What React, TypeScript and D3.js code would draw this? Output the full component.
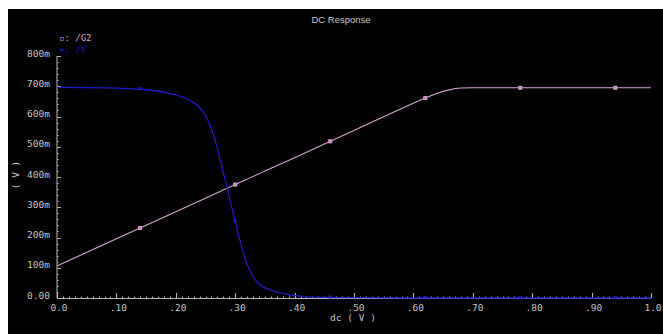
import React, { useEffect, useRef } from "react";
import * as d3 from "d3";

// sweep values (dc, V)
const g2X = [0, 0.1, 0.2, 0.3, 0.4, 0.5, 0.6, 0.62, 0.64, 0.66, 0.68, 0.7, 0.8, 0.9, 1.0];
const g2Y = [0.106, 0.196, 0.285, 0.375, 0.464, 0.554, 0.644, 0.661, 0.677, 0.688, 0.694, 0.695, 0.695, 0.695, 0.695];

const yX = [0, 0.1, 0.14, 0.19, 0.224, 0.24, 0.258, 0.269, 0.28, 0.291, 0.3, 0.32, 0.338, 0.364, 0.397, 0.45, 0.5, 0.6, 0.8, 1.0];
const yY = [0.696, 0.694, 0.69, 0.676, 0.653, 0.63, 0.57, 0.502, 0.415, 0.326, 0.252, 0.112, 0.05, 0.024, 0.009, 0.002, 0.001, 0, 0, 0];

const markerX = [0.14, 0.3, 0.46, 0.62, 0.78, 0.94];

const xTicks = [0, 0.1, 0.2, 0.3, 0.4, 0.5, 0.6, 0.7, 0.8, 0.9, 1.0];
const xTickLabels = ["0.0", ".10", ".20", ".30", ".40", ".50", ".60", ".70", ".80", ".90", "1.0"];
const yTicks = [0, 0.1, 0.2, 0.3, 0.4, 0.5, 0.6, 0.7, 0.8];
const yTickLabels = ["0.00", "100m", "200m", "300m", "400m", "500m", "600m", "700m", "800m"];

const W = 655;
const H = 325;
const PINK = "#d7a3d2";
const BLUE = "#1c1cc8";
const AXIS = "#b8b8b8";
const TEXT = "#c4c4c4";
const MONO = "'DejaVu Sans Mono', monospace";

export default function App() {
  const ref = useRef<SVGSVGElement>(null);

  useEffect(() => {
    const svg = d3.select(ref.current);
    svg.selectAll("*").remove();

    const x = d3.scaleLinear().domain([0, 1]).range([49, 643]);
    const y = d3.scaleLinear().domain([0, 0.8]).range([289, 47]);

    svg.append("rect").attr("width", W).attr("height", H).attr("fill", "#000");

    svg.append("text")
      .attr("x", 333).attr("y", 14)
      .attr("text-anchor", "middle")
      .attr("fill", TEXT)
      .attr("font-family", "'Liberation Sans', Arial, sans-serif")
      .attr("font-size", "9.5px")
      .text("DC Response");

    // legend
    svg.append("text")
      .attr("x", 51).attr("y", 32)
      .attr("fill", PINK).attr("font-family", MONO).attr("font-size", "9px")
      .text("\u25ab: /G2");
    svg.append("text")
      .attr("x", 51).attr("y", 44)
      .attr("fill", BLUE).attr("font-family", MONO).attr("font-size", "9px")
      .text("\u25be: /Y");

    const ax = svg.append("g").attr("stroke", AXIS).attr("stroke-width", 1);

    // y axis
    ax.append("line")
      .attr("x1", x(0)).attr("x2", x(0))
      .attr("y1", y(0.8)).attr("y2", y(0));
    d3.range(0, 41).forEach((i) => {
      const v = i * 0.02;
      const major = i % 5 === 0;
      ax.append("line")
        .attr("x1", x(0)).attr("x2", x(0) + (major ? 4 : 1.5))
        .attr("y1", Math.round(y(v)) + 0.5).attr("y2", Math.round(y(v)) + 0.5);
    });
    yTicks.forEach((v, i) => {
      svg.append("text")
        .attr("x", 42).attr("y", y(v) + 0.5)
        .attr("text-anchor", "end")
        .attr("fill", TEXT).attr("font-family", MONO).attr("font-size", "9.5px")
        .text(yTickLabels[i]);
    });

    // x axis
    ax.append("line")
      .attr("x1", x(0)).attr("x2", x(1))
      .attr("y1", y(0) + 0.5).attr("y2", y(0) + 0.5);
    d3.range(0, 101).forEach((i) => {
      const v = i / 100;
      const major = i % 10 === 0;
      ax.append("line")
        .attr("x1", Math.round(x(v)) + 0.5).attr("x2", Math.round(x(v)) + 0.5)
        .attr("y1", y(0)).attr("y2", y(0) - (major ? 5 : 1.5));
    });
    xTicks.forEach((v, i) => {
      svg.append("text")
        .attr("x", x(v) + 2).attr("y", 302)
        .attr("text-anchor", "middle")
        .attr("fill", TEXT).attr("font-family", MONO).attr("font-size", "9.5px")
        .text(xTickLabels[i]);
    });

    svg.append("text")
      .attr("x", 345).attr("y", 312)
      .attr("text-anchor", "middle")
      .attr("fill", TEXT).attr("font-family", MONO).attr("font-size", "9.5px")
      .text("dc ( V )");
    svg.append("text")
      .attr("transform", "translate(11,166) rotate(-90)")
      .attr("text-anchor", "middle")
      .attr("fill", TEXT).attr("font-family", MONO).attr("font-size", "9.5px")
      .text("( V )");

    const line = d3.line<[number, number]>()
      .x((d) => x(d[0]))
      .y((d) => y(d[1]))
      .curve(d3.curveMonotoneX);

    const g2 = g2X.map((v, i) => [v, g2Y[i]] as [number, number]);
    const yy = yX.map((v, i) => [v, yY[i]] as [number, number]);

    svg.append("path").attr("d", line(g2)).attr("fill", "none")
      .attr("stroke", PINK).attr("stroke-width", 1.1);
    svg.append("path").attr("d", line(yy)).attr("fill", "none")
      .attr("stroke", BLUE).attr("stroke-width", 1.3);

    const g2At = d3.scaleLinear().domain(g2X).range(g2Y);
    const yAt = d3.scaleLinear().domain(yX).range(yY);

    markerX.forEach((v) => {
      svg.append("rect")
        .attr("x", x(v) - 1.5).attr("y", y(g2At(v)) - 1.5)
        .attr("width", 3).attr("height", 3)
        .attr("fill", "#b88ab4").attr("stroke", PINK).attr("stroke-width", 1);
      const cx = x(v);
      const cy = y(yAt(v));
      svg.append("path")
        .attr("d", `M${cx - 2},${cy - 2}L${cx + 2},${cy - 2}L${cx},${cy + 2}Z`)
        .attr("fill", BLUE);
    });
  }, []);

  return (
    <svg
      ref={ref}
      width={W}
      height={H}
      style={{ position: "fixed", left: 8, top: 9, display: "block" }}
    />
  );
}
